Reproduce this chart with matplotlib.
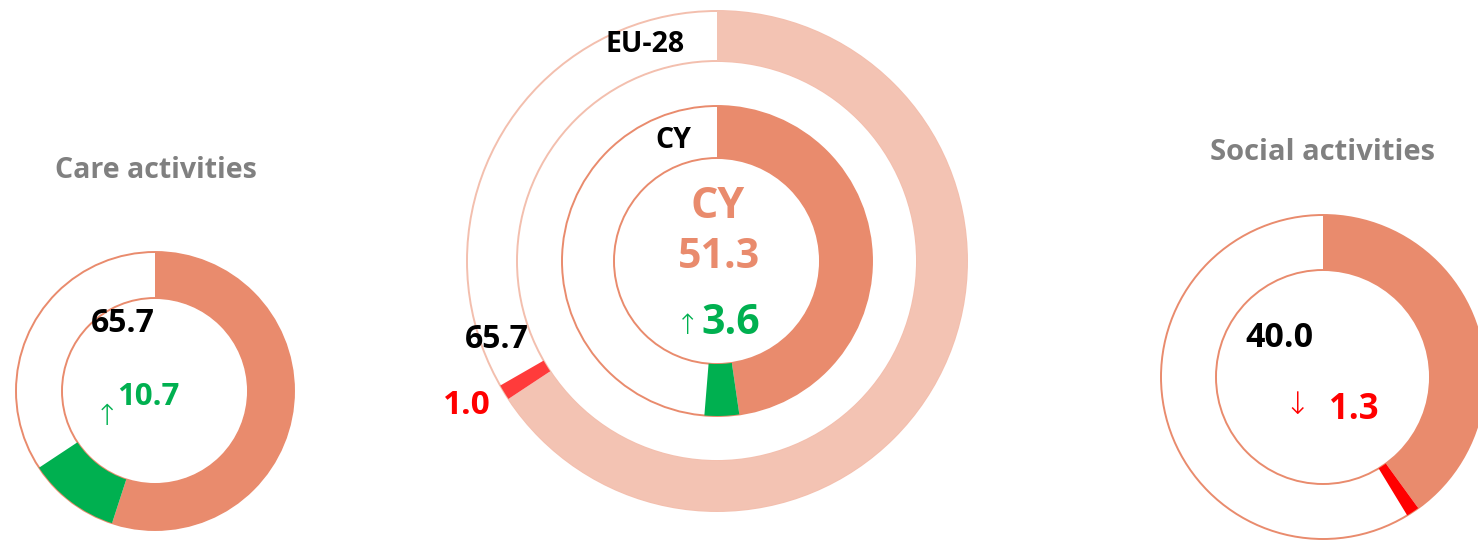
import matplotlib
matplotlib.use("Agg")
import matplotlib.pyplot as plt
from matplotlib.patches import Circle

plt.rcParams['font.family'] = ['Open Sans', 'DejaVu Sans']

W, H = 1478, 541

ORANGE = '#E98B6D'
LIGHT = '#F3C3B3'
GREEN = '#00B050'
RED = '#FF0000'
GREY = '#808080'

# values (percent)
care_value = 65.7
care_change = 10.7      # increase, shown in green
cy_value = 51.3
cy_change = 3.6         # increase
eu_value = 65.7
eu_change = 1.0         # decrease, shown in red
social_value = 40.0
social_change = 1.3     # decrease

titles = ['Care activities', 'Social activities']

fig = plt.figure(figsize=(W / 100, H / 100), dpi=100)
ax = fig.add_axes([0, 0, 1, 1])


def ring(cx, cy, r_out, r_in, sizes, colors, line_col):
    c = (cx, H - cy)
    ax.add_patch(Circle(c, r_out, fill=False, ec=line_col, lw=1.4, zorder=1))
    ax.add_patch(Circle(c, r_in, fill=False, ec=line_col, lw=1.4, zorder=1))
    rest = 100 - sum(sizes)
    wedges, _ = ax.pie(list(sizes) + [rest], colors=list(colors) + ['none'],
                       radius=r_out, center=c, startangle=90, counterclock=False,
                       wedgeprops=dict(width=r_out - r_in, lw=0))
    for w in wedges:
        w.set_zorder(2)


def label(x, y, s, color, size, weight='bold', family=None):
    kw = {}
    if family:
        kw['family'] = family
    ax.text(x, H - y, s, color=color, fontsize=size, fontweight=weight,
            ha='center', va='center', zorder=3, **kw)


ARROW = ['DejaVu Sans']

# left: care activities
ring(155, 391, 139, 93, [care_value - care_change, care_change], [ORANGE, GREEN], ORANGE)
label(156, 170, titles[0], GREY, 20.5)
label(123, 323, f'{care_value:.1f}', 'black', 23)
label(107, 417, '↑', GREEN, 21, weight='light', family=ARROW)
label(148, 397, f'{care_change:.1f}', GREEN, 22.5)

# middle: EU-28 outer ring, CY inner ring
ring(717, 261, 250, 200, [eu_value, eu_change], [LIGHT, '#FF3B3B'], '#F3BFAE')
ring(717, 261, 155, 103, [cy_value - cy_change, cy_change], [ORANGE, GREEN], ORANGE)
label(645, 45, 'EU-28', 'black', 20.5)
label(673, 141, 'CY', 'black', 20.5)
label(718, 206, 'CY', ORANGE, 31)
label(719, 258, f'{cy_value:.1f}', ORANGE, 29.5)
label(688, 326, '↑', GREEN, 20, weight='light', family=ARROW)
label(731, 324, f'{cy_change:.1f}', GREEN, 29.5)
label(497, 339, f'{eu_value:.1f}', 'black', 23)
label(467, 405, f'{eu_change:.1f}', RED, 24)

# right: social activities
ring(1323, 377, 162, 107, [social_value, social_change], [ORANGE, RED], ORANGE)
label(1322, 152, titles[1], GREY, 21)
label(1279, 338, f'{social_value:.1f}', 'black', 24.5)
label(1297, 405, '↓', RED, 22, weight='light', family=ARROW)
label(1354, 410, f'{social_change:.1f}', RED, 25)

# pie() resets the limits, so set them at the end
ax.set_xlim(0, W)
ax.set_ylim(0, H)
ax.set_aspect('equal')
ax.axis('off')

fig.savefig('out.png', dpi=100)
